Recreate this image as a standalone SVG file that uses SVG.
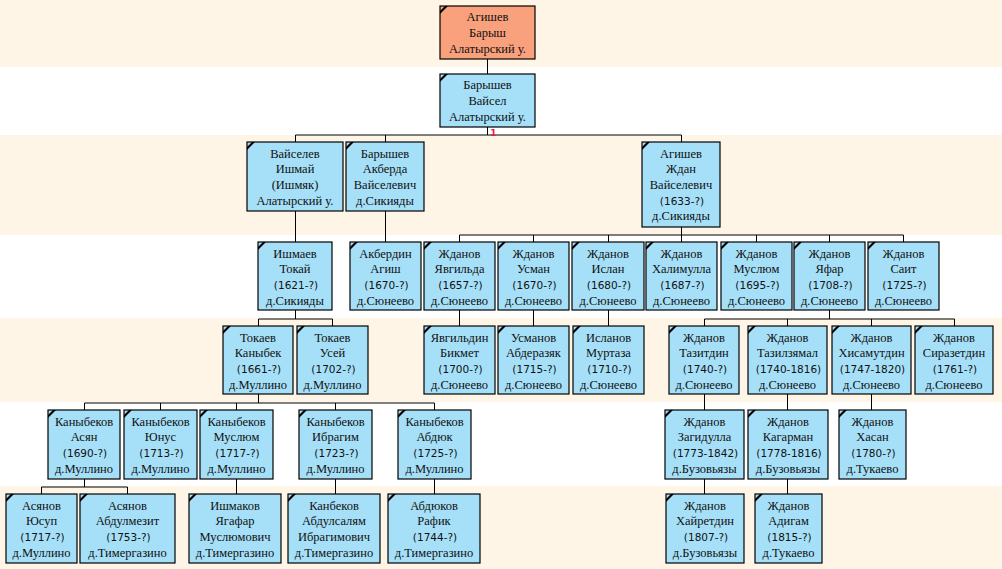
<svg xmlns="http://www.w3.org/2000/svg" xmlns:xlink="http://www.w3.org/1999/xlink" width="1002" height="569" viewBox="0 0 1002 569">
<style>
.band{fill:#FEF5E6}
.box{fill:#A6E0F8;stroke:#000;stroke-width:1.2}
.root{fill:#F9A07C;stroke:#000;stroke-width:1.2}
.t{font-family:"Liberation Serif","Times New Roman",serif;font-size:12.5px;fill:#111;text-anchor:middle}
.d{font-family:"DejaVu Sans",sans-serif;font-size:10.5px;fill:#111;text-anchor:middle}
.conn path{fill:none;stroke:#000;stroke-width:1}
.mark{fill:#000}
.lbl{font-family:"DejaVu Sans",sans-serif;font-size:9px;font-weight:bold;fill:#E0203C;text-anchor:middle}
</style>
<defs>
<polygon id="cm" class="mark" points="0,5 5,0 8,0 0,8"/>
</defs>
<rect x="0" y="0" width="1002" height="569" fill="#fff"/>
<rect class="band" x="0" y="0" width="1002" height="67"/>
<rect class="band" x="0" y="135" width="1002" height="100"/>
<rect class="band" x="0" y="318" width="1002" height="84"/>
<rect class="band" x="0" y="486" width="1002" height="83"/>

<g class="conn">
<path d="M487.5 59V74"/>
<path d="M487.5 127V135M295.5 135H681.5M295.5 135V142M385.5 135V142M681.5 135V142"/>
<path d="M295.5 211V242M385.5 211V242"/>
<path d="M681.5 227V235M459.5 235H903.5M459.5 235V242M533.5 235V242M608.5 235V242M681.5 235V242M756.5 235V242M829.5 235V242M903.5 235V242"/>
<path d="M295.5 310V319M258.5 319H332.5M258.5 319V326M332.5 319V326"/>
<path d="M459.5 310V326M533.5 310V326M608.5 310V326"/>
<path d="M829.5 310V319M704.5 319H954.5M704.5 319V326M787.5 319V326M871.5 319V326M954.5 319V326"/>
<path d="M258.5 394V403M84.5 403H434.5M84.5 403V410M160.5 403V410M236.5 403V410M335.5 403V410M434.5 403V410"/>
<path d="M704.5 394V410M787.5 394V410M871.5 394V410"/>
<path d="M84.5 479V487M41.5 487H127.5M41.5 487V494M127.5 487V494"/>
<path d="M236.5 479V494M335.5 479V494M434.5 479V494"/>
<path d="M704.5 479V494M787.5 479V494"/>
<text class="lbl" x="493.5" y="136">1</text>
</g>

<g id="n0"><rect class="root" x="440" y="6" width="95" height="53"/><use xlink:href="#cm" x="440" y="6"/>
<text class="t" x="487.5" y="21">Агишев</text><text class="t" x="487.5" y="37">Барыш</text><text class="t" x="487.5" y="53">Алатырский у.</text></g>

<g id="n1"><rect class="box" x="440" y="74" width="95" height="53"/><use xlink:href="#cm" x="440" y="74"/>
<text class="t" x="487.5" y="89">Барышев</text><text class="t" x="487.5" y="105">Вайсел</text><text class="t" x="487.5" y="121">Алатырский у.</text></g>

<g id="n2"><rect class="box" x="247" y="142" width="96" height="69"/><use xlink:href="#cm" x="247" y="142"/>
<text class="t" x="295" y="157.5">Вайселев</text><text class="t" x="295" y="173">Ишмай</text><text class="t" x="295" y="189">(Ишмяк)</text><text class="t" x="295" y="204.5">Алатырский у.</text></g>

<g id="n3"><rect class="box" x="346" y="142" width="78" height="69"/><use xlink:href="#cm" x="346" y="142"/>
<text class="t" x="385" y="157.5">Барышев</text><text class="t" x="385" y="173">Акберда</text><text class="t" x="385" y="189">Вайселевич</text><text class="t" x="385" y="204.5">д.Сикияды</text></g>

<g id="n4"><rect class="box" x="642" y="142" width="78" height="85"/><use xlink:href="#cm" x="642" y="142"/>
<text class="t" x="681" y="157.5">Агишев</text><text class="t" x="681" y="173">Ждан</text><text class="t" x="681" y="189">Вайселевич</text><text class="d" x="682" y="204.5">(1633-?)</text><text class="t" x="681" y="220">д.Сикияды</text></g>

<g id="n5"><rect class="box" x="258" y="242" width="74" height="68"/><use xlink:href="#cm" x="258" y="242"/>
<text class="t" x="295" y="257.5">Ишмаев</text><text class="t" x="295" y="273">Токай</text><text class="d" x="296" y="289">(1621-?)</text><text class="t" x="295" y="304.5">д.Сикияды</text></g>

<g id="n6"><rect class="box" x="350" y="242" width="71" height="68"/><use xlink:href="#cm" x="350" y="242"/>
<text class="t" x="385.5" y="257.5">Акбердин</text><text class="t" x="385.5" y="273">Агиш</text><text class="d" x="386.5" y="289">(1670-?)</text><text class="t" x="385.5" y="304.5">д.Сюнеево</text></g>

<g id="n7"><rect class="box" x="424" y="242" width="71" height="68"/><use xlink:href="#cm" x="424" y="242"/>
<text class="t" x="459.5" y="257.5">Жданов</text><text class="t" x="459.5" y="273">Явгильда</text><text class="d" x="460.5" y="289">(1657-?)</text><text class="t" x="459.5" y="304.5">д.Сюнеево</text></g>

<g id="n8"><rect class="box" x="498" y="242" width="71" height="68"/><use xlink:href="#cm" x="498" y="242"/>
<text class="t" x="533.5" y="257.5">Жданов</text><text class="t" x="533.5" y="273">Усман</text><text class="d" x="534.5" y="289">(1670-?)</text><text class="t" x="533.5" y="304.5">д.Сюнеево</text></g>

<g id="n9"><rect class="box" x="572" y="242" width="72" height="68"/><use xlink:href="#cm" x="572" y="242"/>
<text class="t" x="608" y="257.5">Жданов</text><text class="t" x="608" y="273">Ислан</text><text class="d" x="609" y="289">(1680-?)</text><text class="t" x="608" y="304.5">д.Сюнеево</text></g>

<g id="n10"><rect class="box" x="646" y="242" width="71" height="68"/><use xlink:href="#cm" x="646" y="242"/>
<text class="t" x="681.5" y="257.5">Жданов</text><text class="t" x="681.5" y="273">Халимулла</text><text class="d" x="682.5" y="289">(1687-?)</text><text class="t" x="681.5" y="304.5">д.Сюнеево</text></g>

<g id="n11"><rect class="box" x="721" y="242" width="71" height="68"/><use xlink:href="#cm" x="721" y="242"/>
<text class="t" x="756.5" y="257.5">Жданов</text><text class="t" x="756.5" y="273">Муслюм</text><text class="d" x="757.5" y="289">(1695-?)</text><text class="t" x="756.5" y="304.5">д.Сюнеево</text></g>

<g id="n12"><rect class="box" x="794" y="242" width="71" height="68"/><use xlink:href="#cm" x="794" y="242"/>
<text class="t" x="829.5" y="257.5">Жданов</text><text class="t" x="829.5" y="273">Яфар</text><text class="d" x="830.5" y="289">(1708-?)</text><text class="t" x="829.5" y="304.5">д.Сюнеево</text></g>

<g id="n13"><rect class="box" x="868" y="242" width="71" height="68"/><use xlink:href="#cm" x="868" y="242"/>
<text class="t" x="903.5" y="257.5">Жданов</text><text class="t" x="903.5" y="273">Саит</text><text class="d" x="904.5" y="289">(1725-?)</text><text class="t" x="903.5" y="304.5">д.Сюнеево</text></g>

<g id="n14"><rect class="box" x="223" y="326" width="70" height="68"/><use xlink:href="#cm" x="223" y="326"/>
<text class="t" x="258" y="341.5">Токаев</text><text class="t" x="258" y="357">Каныбек</text><text class="d" x="259" y="373">(1661-?)</text><text class="t" x="258" y="388.5">д.Муллино</text></g>

<g id="n15"><rect class="box" x="297" y="326" width="71" height="68"/><use xlink:href="#cm" x="297" y="326"/>
<text class="t" x="332.5" y="341.5">Токаев</text><text class="t" x="332.5" y="357">Усей</text><text class="d" x="333.5" y="373">(1702-?)</text><text class="t" x="332.5" y="388.5">д.Муллино</text></g>

<g id="n16"><rect class="box" x="424" y="326" width="71" height="68"/><use xlink:href="#cm" x="424" y="326"/>
<text class="t" x="459.5" y="341.5">Явгильдин</text><text class="t" x="459.5" y="357">Бикмет</text><text class="d" x="460.5" y="373">(1700-?)</text><text class="t" x="459.5" y="388.5">д.Сюнеево</text></g>

<g id="n17"><rect class="box" x="498" y="326" width="71" height="68"/><use xlink:href="#cm" x="498" y="326"/>
<text class="t" x="533.5" y="341.5">Усманов</text><text class="t" x="533.5" y="357">Абдеразяк</text><text class="d" x="534.5" y="373">(1715-?)</text><text class="t" x="533.5" y="388.5">д.Сюнеево</text></g>

<g id="n18"><rect class="box" x="573" y="326" width="71" height="68"/><use xlink:href="#cm" x="573" y="326"/>
<text class="t" x="608.5" y="341.5">Исланов</text><text class="t" x="608.5" y="357">Муртаза</text><text class="d" x="609.5" y="373">(1710-?)</text><text class="t" x="608.5" y="388.5">д.Сюнеево</text></g>

<g id="n19"><rect class="box" x="669" y="326" width="70" height="68"/><use xlink:href="#cm" x="669" y="326"/>
<text class="t" x="704" y="341.5">Жданов</text><text class="t" x="704" y="357">Тазитдин</text><text class="d" x="705" y="373">(1740-?)</text><text class="t" x="704" y="388.5">д.Сюнеево</text></g>

<g id="n20"><rect class="box" x="748" y="326" width="79" height="68"/><use xlink:href="#cm" x="748" y="326"/>
<text class="t" x="787.5" y="341.5">Жданов</text><text class="t" x="787.5" y="357">Тазилзямал</text><text class="d" x="788.5" y="373">(1740-1816)</text><text class="t" x="787.5" y="388.5">д.Сюнеево</text></g>

<g id="n21"><rect class="box" x="832" y="326" width="79" height="68"/><use xlink:href="#cm" x="832" y="326"/>
<text class="t" x="871.5" y="341.5">Жданов</text><text class="t" x="871.5" y="357">Хисамутдин</text><text class="d" x="872.5" y="373">(1747-1820)</text><text class="t" x="871.5" y="388.5">д.Сюнеево</text></g>

<g id="n22"><rect class="box" x="915" y="326" width="78" height="68"/><use xlink:href="#cm" x="915" y="326"/>
<text class="t" x="954" y="341.5">Жданов</text><text class="t" x="954" y="357">Сиразетдин</text><text class="d" x="955" y="373">(1761-?)</text><text class="t" x="954" y="388.5">д.Сюнеево</text></g>

<g id="n23"><rect class="box" x="48" y="410" width="72" height="69"/><use xlink:href="#cm" x="48" y="410"/>
<text class="t" x="84" y="425.5">Каныбеков</text><text class="t" x="84" y="441">Асян</text><text class="d" x="85" y="457">(1690-?)</text><text class="t" x="84" y="472.5">д.Муллино</text></g>

<g id="n24"><rect class="box" x="124" y="410" width="73" height="69"/><use xlink:href="#cm" x="124" y="410"/>
<text class="t" x="160.5" y="425.5">Каныбеков</text><text class="t" x="160.5" y="441">Юнус</text><text class="d" x="161.5" y="457">(1713-?)</text><text class="t" x="160.5" y="472.5">д.Муллино</text></g>

<g id="n25"><rect class="box" x="200" y="410" width="73" height="69"/><use xlink:href="#cm" x="200" y="410"/>
<text class="t" x="236.5" y="425.5">Каныбеков</text><text class="t" x="236.5" y="441">Муслюм</text><text class="d" x="237.5" y="457">(1717-?)</text><text class="t" x="236.5" y="472.5">д.Муллино</text></g>

<g id="n26"><rect class="box" x="299" y="410" width="73" height="69"/><use xlink:href="#cm" x="299" y="410"/>
<text class="t" x="335.5" y="425.5">Каныбеков</text><text class="t" x="335.5" y="441">Ибрагим</text><text class="d" x="336.5" y="457">(1723-?)</text><text class="t" x="335.5" y="472.5">д.Муллино</text></g>

<g id="n27"><rect class="box" x="398" y="410" width="73" height="69"/><use xlink:href="#cm" x="398" y="410"/>
<text class="t" x="434.5" y="425.5">Каныбеков</text><text class="t" x="434.5" y="441">Абдюк</text><text class="d" x="435.5" y="457">(1725-?)</text><text class="t" x="434.5" y="472.5">д.Муллино</text></g>

<g id="n28"><rect class="box" x="665" y="410" width="79" height="69"/><use xlink:href="#cm" x="665" y="410"/>
<text class="t" x="704.5" y="425.5">Жданов</text><text class="t" x="704.5" y="441">Загидулла</text><text class="d" x="705.5" y="457">(1773-1842)</text><text class="t" x="704.5" y="472.5">д.Бузовьязы</text></g>

<g id="n29"><rect class="box" x="748" y="410" width="80" height="69"/><use xlink:href="#cm" x="748" y="410"/>
<text class="t" x="788" y="425.5">Жданов</text><text class="t" x="788" y="441">Кагарман</text><text class="d" x="789" y="457">(1778-1816)</text><text class="t" x="788" y="472.5">д.Бузовьязы</text></g>

<g id="n30"><rect class="box" x="839" y="410" width="67" height="69"/><use xlink:href="#cm" x="839" y="410"/>
<text class="t" x="872.5" y="425.5">Жданов</text><text class="t" x="872.5" y="441">Хасан</text><text class="d" x="873.5" y="457">(1780-?)</text><text class="t" x="872.5" y="472.5">д.Тукаево</text></g>

<g id="n31"><rect class="box" x="6" y="494" width="71" height="69"/><use xlink:href="#cm" x="6" y="494"/>
<text class="t" x="41.5" y="509.5">Асянов</text><text class="t" x="41.5" y="525">Юсуп</text><text class="d" x="42.5" y="541">(1717-?)</text><text class="t" x="41.5" y="556.5">д.Муллино</text></g>

<g id="n32"><rect class="box" x="80" y="494" width="95" height="69"/><use xlink:href="#cm" x="80" y="494"/>
<text class="t" x="127.5" y="509.5">Асянов</text><text class="t" x="127.5" y="525">Абдулмезит</text><text class="d" x="128.5" y="541">(1753-?)</text><text class="t" x="127.5" y="556.5">д.Тимергазино</text></g>

<g id="n33"><rect class="box" x="189" y="494" width="92" height="69"/><use xlink:href="#cm" x="189" y="494"/>
<text class="t" x="235" y="509.5">Ишмаков</text><text class="t" x="235" y="525">Ягафар</text><text class="t" x="235" y="541">Муслюмович</text><text class="t" x="235" y="556.5">д.Тимергазино</text></g>

<g id="n34"><rect class="box" x="288" y="494" width="92" height="69"/><use xlink:href="#cm" x="288" y="494"/>
<text class="t" x="334" y="509.5">Канбеков</text><text class="t" x="334" y="525">Абдулсалям</text><text class="t" x="334" y="541">Ибрагимович</text><text class="t" x="334" y="556.5">д.Тимергазино</text></g>

<g id="n35"><rect class="box" x="388" y="494" width="92" height="69"/><use xlink:href="#cm" x="388" y="494"/>
<text class="t" x="434" y="509.5">Абдюков</text><text class="t" x="434" y="525">Рафик</text><text class="d" x="435" y="541">(1744-?)</text><text class="t" x="434" y="556.5">д.Тимергазино</text></g>

<g id="n36"><rect class="box" x="666" y="494" width="78" height="69"/><use xlink:href="#cm" x="666" y="494"/>
<text class="t" x="705" y="509.5">Жданов</text><text class="t" x="705" y="525">Хайретдин</text><text class="d" x="706" y="541">(1807-?)</text><text class="t" x="705" y="556.5">д.Бузовьязы</text></g>

<g id="n37"><rect class="box" x="755" y="494" width="67" height="69"/><use xlink:href="#cm" x="755" y="494"/>
<text class="t" x="788.5" y="509.5">Жданов</text><text class="t" x="788.5" y="525">Адигам</text><text class="d" x="789.5" y="541">(1815-?)</text><text class="t" x="788.5" y="556.5">д.Тукаево</text></g>
</svg>
